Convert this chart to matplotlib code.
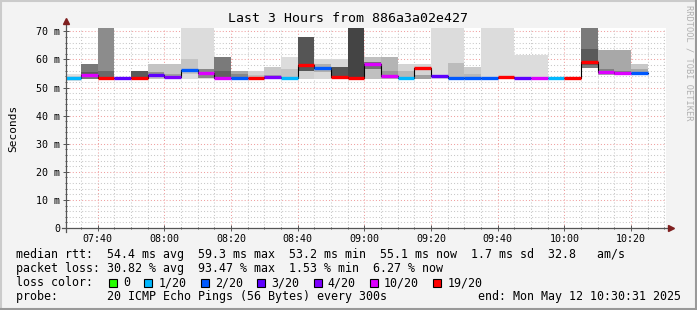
import numpy as np
import matplotlib
matplotlib.use("Agg")
import matplotlib.pyplot as plt
from matplotlib.lines import Line2D
from matplotlib.patches import Rectangle

# --- data (ms), one entry per 5 min step starting 07:30 ---
step_start = 450  # minutes after midnight (07:30)
median_ms = [53.5, 54.6, 53.4, 53.3, 53.4, 54.6, 53.6, 56.2, 55.1, 53.5,
             53.3, 53.3, 53.6, 53.4, 58.1, 56.9, 53.9, 53.4, 58.3, 54.0,
             53.4, 56.9, 54.0, 53.3, 53.3, 53.5, 53.6, 53.4, 53.4, 53.4,
             53.4, 59.2, 55.7, 55.1, 55.1]
loss_idx = [1, 5, 6, 3, 6, 3, 4, 2, 5, 5,
            2, 6, 4, 1, 6, 2, 6, 6, 5, 5,
            1, 6, 3, 2, 2, 2, 6, 3, 5, 1,
            6, 6, 5, 5, 2]

nan = np.nan
# outer smoke band
smoke_lo = [52.4, 53.0, 53.0, nan, 53.0, 53.2, 53.0, 53.0, 53.2, 53.0,
            53.0, 53.0, 53.0, 53.0, 56.0, 53.0, 53.0, 53.0, 53.0, 53.0,
            53.0, 53.0, 53.0, 53.0, 53.0, 53.0, 53.0, 53.0, 53.0, nan,
            nan, 57.0, 54.5, 54.5, 54.5]
smoke_hi = [55.0, 58.4, 72.0, nan, 55.8, 58.4, 58.4, 72.0, 72.0, 60.7,
            56.0, 56.0, 57.2, 60.7, 68.1, 60.1, 60.1, 72.0, 61.0, 61.0,
            58.4, 58.4, 72.0, 72.0, 57.2, 72.0, 72.0, 61.7, 61.7, nan,
            nan, 72.0, 63.5, 63.5, 58.4]
smoke_grey = ['#e0e0e0', '#787878', '#8c8c8c', '#ffffff', '#5a5a5a', '#c4c4c4', '#c4c4c4',
              '#dcdcdc', '#dcdcdc', '#7a7a7a', '#a8a8a8', '#d4d4d4', '#c8c8c8', '#dcdcdc',
              '#555555', '#d8d8d8', '#d8d8d8', '#444444', '#c0c0c0', '#b4b4b4', '#d4d4d4',
              '#d4d4d4', '#dcdcdc', '#dcdcdc', '#cccccc', '#dcdcdc', '#dcdcdc', '#dcdcdc',
              '#dcdcdc', '#ffffff', '#ffffff', '#7a7a7a', '#a8a8a8', '#a8a8a8', '#c8c8c8']
# inner smoke band (closer to median)
inner_lo = [53.0, 54.0, 53.5, nan, nan, 54.0, 53.5, 55.0, 53.5, 53.5,
            53.3, 53.3, 53.5, 53.5, 53.0, 55.5, 53.5, nan, 56.5, 53.5,
            53.5, 53.2, nan, 53.5, 53.2, nan, nan, nan, nan, nan,
            nan, 58.0, 55.0, 54.5, 54.5]
inner_hi = [54.0, 55.5, 56.0, nan, nan, 55.5, 55.0, 60.1, 56.6, 56.0,
            54.8, 54.5, 54.5, 56.6, 56.0, 58.5, 57.2, nan, 59.0, 56.0,
            56.0, 54.5, nan, 58.9, 55.0, nan, nan, nan, nan, nan,
            nan, 63.7, 56.5, 56.0, 56.6]
inner_grey = ['#d0d0d0', '#5a5a5a', '#6a6a6a', '#ffffff', '#ffffff', '#909090', '#a0a0a0',
              '#c4c4c4', '#888888', '#606060', '#888888', '#c0c0c0', '#a8a8a8', '#c4c4c4',
              '#d0d0d0', '#b0b0b0', '#555555', '#ffffff', '#707070', '#999999', '#b8b8b8',
              '#a0a0a0', '#ffffff', '#bcbcbc', '#b8b8b8', '#ffffff', '#ffffff', '#ffffff',
              '#ffffff', '#ffffff', '#ffffff', '#5a5a5a', '#808080', '#808080', '#a8a8a8']

loss_labels = ['0', '1/20', '2/20', '3/20', '4/20', '10/20', '19/20']
loss_colors = ['#26ff00', '#00b8ff', '#0059ff', '#5e00ff', '#7e00ff', '#dd00ff', '#ff0000']

tick_minutes = [460, 480, 500, 520, 540, 560, 580, 600, 620]
tick_labels = ['07:40', '08:00', '08:20', '08:40', '09:00', '09:20', '09:40', '10:00', '10:20']
y_ticks = [0, 10, 20, 30, 40, 50, 60, 70]

stats_rows = [
    "median rtt:  54.4 ms avg  59.3 ms max  53.2 ms min  55.1 ms now  1.7 ms sd  32.8   am/s",
    "packet loss: 30.82 % avg  93.47 % max  1.53 % min  6.27 % now",
]
probe_text = "probe:       20 ICMP Echo Pings (56 Bytes) every 300s"
end_text = "end: Mon May 12 10:30:31 2025"
title = "Last 3 Hours from 886a3a02e427"

MONO = 'DejaVu Sans Mono'
W, H = 697, 310

fig = plt.figure(figsize=(W / 100, H / 100), dpi=100, facecolor='#f3f3f3')
ax = fig.add_axes([66 / W, 1 - 228 / H, 600 / W, 200 / H])
ax.set_facecolor('white')

n = len(median_ms)
starts = step_start + 5 * np.arange(n)
med = np.array(median_ms)

def draw_band(lo, hi, greys):
    lo = np.array(lo); hi = np.array(hi)
    ok = ~np.isnan(lo)
    ax.bar(starts[ok], (hi - lo)[ok], bottom=lo[ok], width=5, align='edge',
           color=np.array(greys)[ok], linewidth=0, zorder=2)

draw_band(smoke_lo, smoke_hi, smoke_grey)
draw_band(inner_lo, inner_hi, inner_grey)

# black step line, then loss coloured median
ax.step(np.append(starts, starts[-1] + 5), np.append(med, med[-1]), where='post',
        color='black', lw=0.8, zorder=3)
ax.hlines(med, starts, starts + 5, colors=[loss_colors[i] for i in loss_idx],
          lw=2.4, zorder=4, capstyle='butt')

ax.set_xlim(450.5, 630.5)
ax.set_ylim(0, 71.2)

# grid, rrdtool-ish
ax.set_xticks(tick_minutes)
ax.set_xticks(np.arange(455, 631, 5), minor=True)
ax.set_xticklabels(tick_labels, family=MONO, fontsize=7.2)
ax.set_yticks(y_ticks)
ax.set_yticks(np.arange(0, 71, 2), minor=True)
ax.set_yticklabels(['0' if v == 0 else f'{v} m' for v in y_ticks], family=MONO, fontsize=7.2)
ax.grid(which='minor', color='#c8c8c8', lw=0.75, ls=(0, (1, 2)), zorder=1)
ax.grid(which='major', color='#f0a0a0', lw=0.75, ls=(0, (1, 2)), zorder=1)
ax.set_axisbelow(True)
ax.tick_params(which='both', direction='inout', color='#555555', width=0.7, pad=2)
ax.tick_params(which='major', length=4)
ax.tick_params(which='minor', length=2)
for s in ax.spines.values():
    s.set_visible(False)

ax.set_ylabel('Seconds', family=MONO, fontsize=8)
ax.yaxis.set_label_coords((18 - 66) / 600, 0.5)

# axes with arrows
axis_col = '#555555'
ax.plot([0, 0], [-0.02, 1.03], transform=ax.transAxes, color=axis_col, lw=0.9, clip_on=False, zorder=5)
ax.plot([-0.006, 1.006], [0, 0], transform=ax.transAxes, color=axis_col, lw=0.9, clip_on=False, zorder=5)
ax.plot([0], [1.035], transform=ax.transAxes, marker='^', ms=4.5, color='#7f1f1f',
        clip_on=False, zorder=6)
ax.plot([1.008], [0], transform=ax.transAxes, marker='>', ms=4.5, color='#7f1f1f',
        clip_on=False, zorder=6)

def fx(px):
    return px / W

def fy(py):
    return 1 - py / H

fig.text(0.5, fy(19), title, ha='center', va='center', family=MONO, fontsize=9.5)
fig.text(fx(689), fy(5), 'RRDTOOL / TOBI OETIKER', rotation=270, ha='center', va='top',
         family=MONO, fontsize=6.2, color='#b0b0b0')

cw = 7.05  # char width of legend font
x0 = 16
fig.text(fx(x0), fy(254.5), stats_rows[0], family=MONO, fontsize=8.4, va='center')
fig.text(fx(x0), fy(268.5), stats_rows[1], family=MONO, fontsize=8.4, va='center')
fig.text(fx(x0), fy(282.5), "loss color:", family=MONO, fontsize=8.4, va='center')
col = 13.2
for lab, c in zip(loss_labels, loss_colors):
    bx = x0 + col * cw
    fig.patches.append(Rectangle((fx(bx), fy(286.5)), 8 / W, 8 / H, transform=fig.transFigure,
                                 facecolor=c, edgecolor='black', lw=0.8))
    fig.text(fx(x0 + (col + 2) * cw), fy(282.5), lab, family=MONO, fontsize=8.4, va='center')
    col += 2 + len(lab) + 2
fig.text(fx(x0), fy(296.5), probe_text, family=MONO, fontsize=8.4, va='center')
fig.text(fx(681), fy(296.5), end_text, family=MONO, fontsize=8.4, va='center', ha='right')

# 3d frame
fig.add_artist(Line2D([0, 1], [1 - 0.5 / H, 1 - 0.5 / H], color='#cbcbcb', lw=1.5))
fig.add_artist(Line2D([0.5 / W, 0.5 / W], [0, 1], color='#cbcbcb', lw=1.5))
fig.add_artist(Line2D([0, 1], [1 / H, 1 / H], color='#999999', lw=1.5))
fig.add_artist(Line2D([1 - 1 / W, 1 - 1 / W], [0, 1], color='#999999', lw=1.5))

fig.savefig('out.png', dpi=100, facecolor=fig.get_facecolor())
